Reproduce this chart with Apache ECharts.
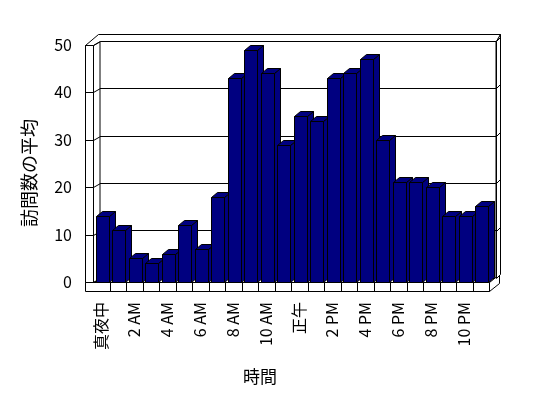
<!DOCTYPE html>
<html>
<head>
<meta charset="utf-8">
<script src="https://cdn.jsdelivr.net/npm/echarts@6/dist/echarts.min.js"></script>
<style>
html, body { margin: 0; padding: 0; background: #fff; }
#chart { width: 548px; height: 398px; }
</style>
</head>
<body>
<div id="chart"></div>
<script>
// 時間ごとの訪問数
const hours = [
  '真夜中', '1 AM', '2 AM', '3 AM', '4 AM', '5 AM', '6 AM', '7 AM', '8 AM', '9 AM', '10 AM', '11 AM',
  '正午', '1 PM', '2 PM', '3 PM', '4 PM', '5 PM', '6 PM', '7 PM', '8 PM', '9 PM', '10 PM', '11 PM'
]
const visits = [14, 11, 5, 4, 6, 12, 7, 18, 43, 49, 44, 29, 35, 34, 43, 44, 47, 30, 21, 21, 20, 14, 14, 16]
const yTicks = [0, 10, 20, 30, 40, 50]

const NAVY = '#000080'
const FONT = '"Noto Sans CJK JP", "Liberation Sans", sans-serif'
// 3D offsets (px)
const DX = 6, DY = -5        // bar depth
const BX = 7, BY = -4        // front plane -> back wall
const WALL = 8, FLOOR = 9    // wall / floor thickness

const px = v => Math.round(v) + 0.5
const line = (pts) => ({ type: 'polyline', shape: { points: pts }, style: { stroke: '#000', lineWidth: 1, fill: null } })
const poly = (pts) => ({ type: 'polygon', shape: { points: pts }, style: { fill: '#fff', stroke: '#000', lineWidth: 1 } })

const renderFrame = (params, api) => {
  const cs = params.coordSys
  const L = px(cs.x), R = px(cs.x + cs.width)
  const T = px(cs.y), B = px(cs.y + cs.height)
  const bw = api.size([1, 0])[0]
  const children = []
  // floor top
  children.push(poly([[L, B], [R, B], [R + BX, B + BY], [L + BX, B + BY]]))
  // floor front
  children.push(poly([[L - WALL, B], [R, B], [R, B + FLOOR], [L - WALL, B + FLOOR]]))
  for (let k = 1; k < hours.length; k++) {
    const x = px(cs.x + k * bw)
    children.push(line([[x, B], [x, B + FLOOR]]))
  }
  // floor right side
  children.push(poly([[R, B], [R + 10, B - 8], [R + 10, B + 1], [R, B + FLOOR]]))
  // left wall front
  children.push(poly([[L - WALL, T], [L, T], [L, B], [L - WALL, B]]))
  // top of walls
  children.push(poly([[L - WALL, T], [L - WALL + 13, T - 11], [R + 11, T - 11], [R + BX, T + BY], [L + BX, T + BY], [L, T]]))
  // right edge of back wall
  children.push(poly([[R + BX, T + BY], [R + 11, T - 11], [R + 11, B - 8], [R + BX, B + BY]]))
  // wall grid lines
  yTicks.forEach(v => {
    const y = px(api.coord([0, v])[1])
    children.push(line([[L - WALL, y], [L, y], [L + BX, y + BY]]))
    if (v > 0) children.push(line([[R + BX, y + BY], [R + 11, y + BY - 4]]))
  })
  return { type: 'group', children }
}

const renderBar = (params, api) => {
  const i = api.value(0)
  const top = api.coord([i, api.value(1)])
  const base = api.coord([i, 0])
  const bw = api.size([1, 0])[0]
  const x0 = px(top[0] - bw * 0.336)
  const x1 = x0 + Math.round(bw * 0.764)
  const y0 = px(top[1]), y1 = px(base[1])
  const style = { fill: NAVY, stroke: '#000', lineWidth: 1 }
  return {
    type: 'group',
    children: [
      { type: 'polygon', shape: { points: [[x1, y0], [x1 + DX, y0 + DY], [x1 + DX, y1 + DY], [x1, y1]] }, style },
      { type: 'polygon', shape: { points: [[x0, y0], [x0 + DX, y0 + DY], [x1 + DX, y0 + DY], [x1, y0]] }, style },
      { type: 'rect', shape: { x: x0, y: y0, width: x1 - x0, height: y1 - y0 }, style }
    ]
  }
}

const chart = echarts.init(document.getElementById('chart'), null, { renderer: 'canvas' })

chart.setOption({
  backgroundColor: '#fff',
  animation: false,
  grid: [
    // front plane
    { left: 93, right: 59, top: 45, bottom: 116, show: false },
    // back wall
    { left: 100, right: 52, top: 41, bottom: 120, show: true, backgroundColor: '#fff', borderColor: '#000', borderWidth: 1, z: 0 }
  ],
  xAxis: [
    {
      type: 'category',
      gridIndex: 0,
      data: hours,
      axisLine: { show: false },
      axisTick: { show: false },
      axisLabel: {
        interval: 1,
        rotate: 90,
        margin: 20,
        color: '#000',
        fontSize: 16,
        fontFamily: FONT
      }
    },
    { type: 'category', gridIndex: 1, data: hours, show: false }
  ],
  yAxis: [
    {
      type: 'value',
      gridIndex: 0,
      min: 0,
      max: 50,
      interval: 10,
      axisLine: { show: false },
      axisTick: { show: false },
      splitLine: { show: false },
      axisLabel: { margin: 21, color: '#000', fontSize: 16, fontFamily: FONT }
    },
    {
      type: 'value',
      gridIndex: 1,
      min: 0,
      max: 50,
      interval: 10,
      axisLine: { show: false },
      axisTick: { show: false },
      axisLabel: { show: false },
      splitLine: { lineStyle: { color: '#000', width: 1 } }
    }
  ],
  series: [
    {
      type: 'custom',
      name: 'frame',
      xAxisIndex: 0,
      yAxisIndex: 0,
      silent: true,
      z: 1,
      renderItem: renderFrame,
      data: [[0, 0]]
    },
    {
      type: 'custom',
      name: '訪問数の平均',
      xAxisIndex: 0,
      yAxisIndex: 0,
      z: 2,
      renderItem: renderBar,
      encode: { x: 0, y: 1 },
      data: visits.map((v, i) => [i, v])
    }
  ],
  graphic: [
    {
      type: 'text',
      x: 29,
      y: 173,
      rotation: Math.PI / 2,
      style: { text: '訪問数の平均', fill: '#000', font: '18px ' + FONT, align: 'center', verticalAlign: 'middle' }
    },
    {
      type: 'text',
      x: 260,
      y: 377,
      style: { text: '時間', fill: '#000', font: '17px ' + FONT, align: 'center', verticalAlign: 'middle' }
    }
  ]
})
</script>
</body>
</html>
